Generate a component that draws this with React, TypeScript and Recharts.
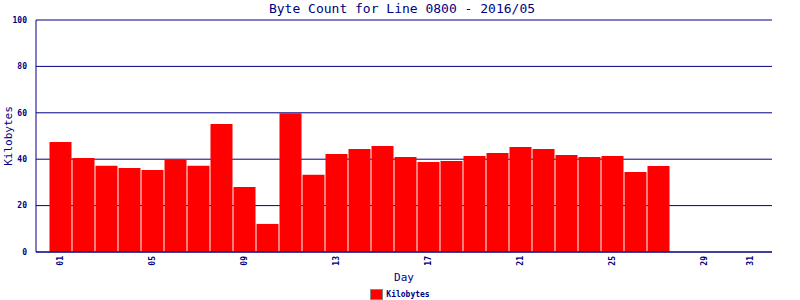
import React from "react";
import { BarChart, Bar, XAxis, YAxis, CartesianGrid } from "recharts";

const days = [
  "01", "02", "03", "04", "05", "06", "07", "08", "09", "10",
  "11", "12", "13", "14", "15", "16", "17", "18", "19", "20",
  "21", "22", "23", "24", "25", "26", "27", "28", "29", "30", "31",
];

// kilobytes per day, no data after the 27th
const kilobytes = [
  47.4, 40.5, 37.2, 36.2, 35.3, 39.9, 37.2, 55.2, 28.0, 12.1,
  59.8, 33.3, 42.2, 44.4, 45.7, 40.9, 38.8, 39.2, 41.4, 42.7,
  45.3, 44.4, 41.8, 40.9, 41.4, 34.5, 37.1, null, null, null, null,
];

const tickDays = ["01", "05", "09", "13", "17", "21", "25", "29", "31"];
const yTicks = [0, 20, 40, 60, 80, 100];

const data = days.map((d, i) => ({ day: d, kb: kilobytes[i] }));

const NAVY = "#000080";
const MONO = "'DejaVu Sans Mono', 'Liberation Mono', monospace";

const DayTick = (props: any) => {
  const { x, y, payload } = props;
  if (!tickDays.includes(payload.value)) return null;
  return (
    <g transform={`translate(${x},${y - 4})`}>
      <text
        transform="rotate(-90)"
        textAnchor="end"
        dominantBaseline="central"
        fontFamily={MONO}
        fontSize={8}
        fontWeight="bold"
        fill={NAVY}
      >
        {payload.value}
      </text>
    </g>
  );
};

export default function App() {
  return (
    <div style={{ position: "absolute", left: 0, top: 0, width: 800, height: 300, background: "#fff" }}>
      <div
        style={{
          position: "absolute",
          left: 0,
          top: 1,
          width: 804,
          textAlign: "center",
          fontFamily: MONO,
          fontSize: 13,
          color: NAVY,
          lineHeight: "16px",
        }}
      >
        Byte Count for Line 0800 - 2016/05
      </div>
      <BarChart
        width={800}
        height={300}
        data={data}
        margin={{ top: 20, right: 28, left: 0, bottom: 18 }}
        barCategoryGap={0.5}
      >
        <CartesianGrid vertical={false} stroke={NAVY} strokeWidth={1} />
        <XAxis
          dataKey="day"
          interval={0}
          height={30}
          padding={{ left: 13, right: 10 }}
          axisLine={{ stroke: NAVY }}
          tickLine={false}
          tick={<DayTick />}
          label={{
            content: (p: any) => (
              <text
                x={p.viewBox.x + p.viewBox.width / 2}
                y={p.viewBox.y + 29}
                textAnchor="middle"
                fontFamily={MONO}
                fontSize={11}
                fill={NAVY}
              >
                Day
              </text>
            ),
          }}
        />
        <YAxis
          width={36}
          domain={[0, 100]}
          ticks={yTicks}
          axisLine={{ stroke: NAVY }}
          tickLine={false}
          tickMargin={3}
          tick={{ fontFamily: MONO, fontSize: 8, fontWeight: "bold", fill: NAVY }}
          label={{
            content: (p: any) => {
              const cx = p.viewBox.x + 8;
              const cy = p.viewBox.y + p.viewBox.height / 2;
              return (
                <text
                  x={cx}
                  y={cy}
                  transform={`rotate(-90, ${cx}, ${cy})`}
                  textAnchor="middle"
                  dominantBaseline="central"
                  fontFamily={MONO}
                  fontSize={11}
                  fill={NAVY}
                >
                  Kilobytes
                </text>
              );
            },
          }}
        />
        <YAxis
          yAxisId="right"
          orientation="right"
          width={0}
          domain={[0, 100]}
          tick={false}
          tickLine={false}
          axisLine={{ stroke: NAVY }}
        />
        <Bar dataKey="kb" fill="#ff0000" isAnimationActive={false} />
      </BarChart>
      <div
        style={{
          position: "absolute",
          left: 0,
          top: 289,
          width: 800,
          display: "flex",
          justifyContent: "center",
          alignItems: "center",
          fontFamily: MONO,
          fontSize: 8,
          fontWeight: "bold",
          color: NAVY,
        }}
      >
        <span
          style={{
            display: "inline-block",
            width: 11,
            height: 9,
            background: "#ff0000",
            border: "1px solid #888",
            marginRight: 3,
          }}
        />
        Kilobytes
      </div>
    </div>
  );
}
